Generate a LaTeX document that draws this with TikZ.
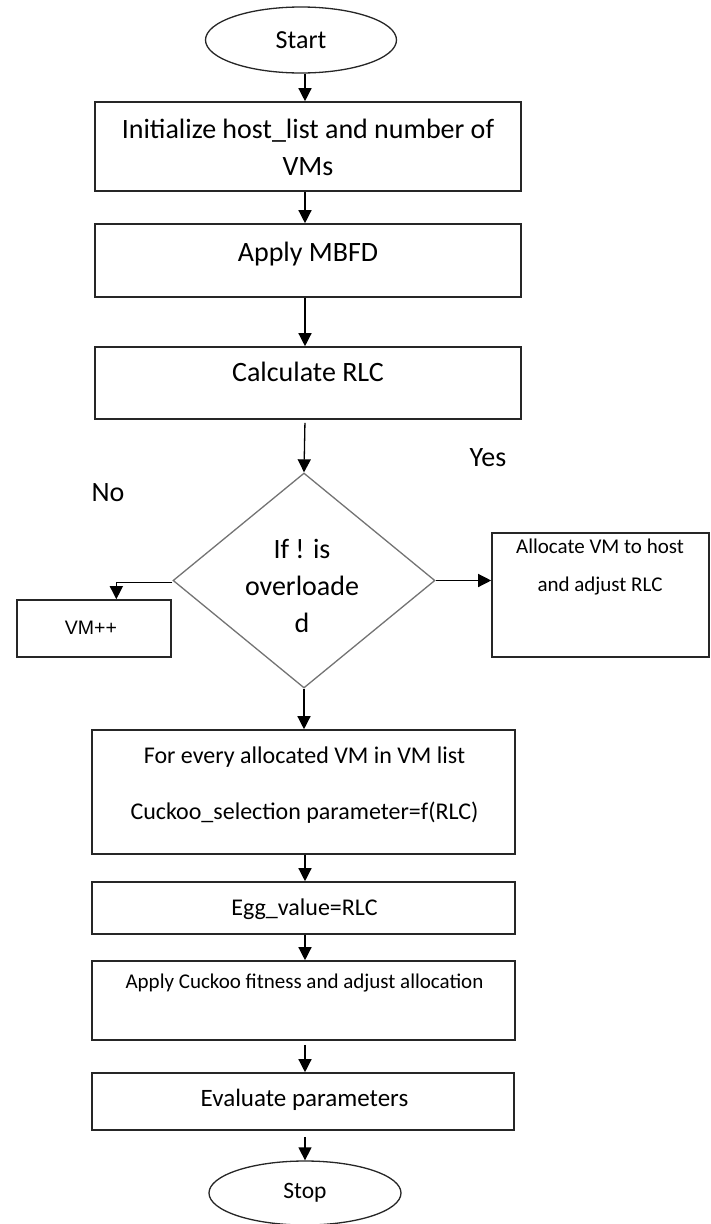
\documentclass[tikz,border=0pt]{standalone}
\usepackage{fontspec}
\setmainfont{Carlito}
\newfontfamily\arialf{Liberation Sans}
\usetikzlibrary{arrows.meta,shapes.geometric}
\tikzset{
  box/.style={draw=black!85, line width=1.6pt, inner sep=0pt},
  term/.style={draw=black!85, line width=1.3pt, ellipse, inner sep=0pt},
  decision/.style={draw=black!55, line width=1.3pt, diamond, inner sep=0pt},
  txt/.style={inner sep=0pt, align=center, text=black},
  arr/.style={draw=black, line width=1.3pt, -{Triangle[length=13pt,width=13pt]}},
  big/.style={font=\fontsize{28}{37}\selectfont},
  mid/.style={font=\fontsize{24}{30}\selectfont},
  small/.style={font=\fontsize{21}{38}\selectfont},
}
\begin{document}
\begin{tikzpicture}[x=1pt,y=-1pt]
\useasboundingbox (0,0) rectangle (710,1224);
\coordinate (col) at (305,0);

% terminals
\node[term, minimum width=191pt, minimum height=66pt] (start) at (301,40) {};
\node[txt, font=\fontsize{26}{30}\selectfont] (tstart) at (301,40) {Start};
\node[term, minimum width=192pt, minimum height=64pt] (stop) at (305,1193) {};
\node[txt, font=\fontsize{23.5}{28}\selectfont] (tstop) at (305,1193) {Stop};

% main column boxes
\node[box, minimum width=426pt, minimum height=89pt] (b1) at (308,146.5) {};
\node[txt, big] (t1) at (308,147) {Initialize host\_list and number of\\VMs};
\node[box, minimum width=426pt, minimum height=73pt] (b2) at (308,260.5) {};
\node[txt, big] (t2) at (308,254) {Apply MBFD};
\node[box, minimum width=426pt, minimum height=72pt] (b3) at (308,383) {};
\node[txt, big] (t3) at (308,372) {Calculate RLC};

% decision
\node[decision, minimum width=262pt, minimum height=215pt] (dec) at (304,580.5) {};
\node[txt, big] (tdec) at (302,586) {If ! is\\overloade\\d};
\node[txt, big] (yes) at (488,458) {Yes};
\node[txt, big] (no) at (108,493) {No};

% side boxes
\node[box, minimum width=154pt, minimum height=57pt] (vm) at (94,628.5) {};
\node[txt, font=\arialf\fontsize{19.5}{24}\selectfont] (tvm) at (91,628) {VM++};
\node[box, minimum width=217pt, minimum height=124pt] (alloc) at (600.5,595) {};
\node[txt, small] (talloc) at (600,567) {Allocate VM to host\\and adjust RLC};

% lower boxes
\node[box, minimum width=423pt, minimum height=124pt] (b4) at (303.5,792) {};
\node[txt, mid] (t4a) at (304.5,757) {For every allocated VM in VM list};
\node[txt, mid] (t4b) at (304.5,813) {Cuckoo\_selection parameter=f(RLC)};
\node[box, minimum width=423pt, minimum height=52pt] (b5) at (303.5,908) {};
\node[txt, mid] (t5) at (304.5,909) {Egg\_value=RLC};
\node[box, minimum width=423pt, minimum height=79pt] (b6) at (303.5,1000.5) {};
\node[txt, small] (t6) at (304.5,983) {Apply Cuckoo fitness and adjust allocation};
\node[box, minimum width=422pt, minimum height=57pt] (b7) at (303,1101.5) {};
\node[txt, font=\fontsize{25}{30}\selectfont] (t7) at (304.5,1100) {Evaluate parameters};

% connectors
\draw[arr] (start.south -| col) -- (b1.north -| col);
\draw[arr] (b1.south -| col) -- (b2.north -| col);
\draw[arr] (b2.south -| col) -- (b3.north -| col);
\draw[arr, shorten <=3pt] (b3.south -| col) -- (dec.north);
\draw[arr] ([yshift=-2pt]dec.west) -- ++(-56,0) coordinate (nobend) -- (vm.north -| nobend);
\draw[arr] (dec.east) -- (alloc.west |- dec.east);
\draw[arr] (dec.south) -- (b4.north -| dec.south);
\draw[arr] (b4.south -| col) -- (b5.north -| col);
\draw[arr] (b5.south -| col) -- (b6.north -| col);
\draw[arr, shorten <=4pt] (b6.south -| col) -- (b7.north -| col);
\draw[arr, shorten <=6pt] (b7.south -| col) -- (stop.north -| col);
\end{tikzpicture}
\end{document}
